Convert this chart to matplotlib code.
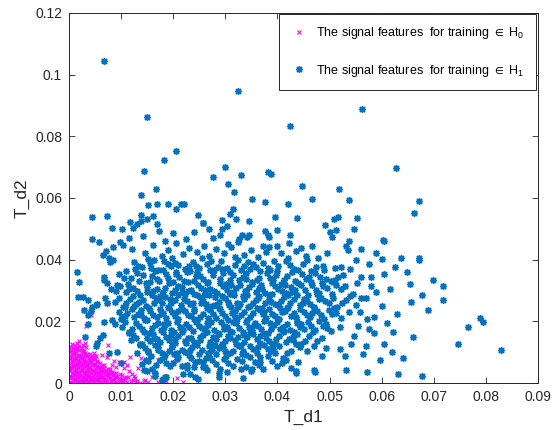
import numpy as np
import matplotlib
matplotlib.use('Agg')
import matplotlib.pyplot as plt

plt.rcParams['font.family'] = ['Liberation Sans', 'DejaVu Sans']
plt.rcParams['mathtext.default'] = 'regular'

# values, in units of 1e-3
h0_pts = [
    (0.2,0.3),(0.8,0.7),(1.5,0.4),(2.1,0.8),(2.9,0.3),(3.6,0.6),(4.3,0.9),(5.0,0.4),(5.8,0.7),(6.5,0.3),
    (7.2,0.8),(8.0,0.5),(8.9,0.2),(9.7,0.6),(10.6,0.4),(11.8,0.7),(12.9,0.3),(14.3,0.5),
    (0.4,1.5),(1.1,1.2),(1.9,1.8),(2.6,1.4),(3.3,1.7),(4.0,1.1),(4.8,1.6),(5.5,1.3),(6.3,1.9),(7.0,1.2),
    (7.8,1.6),(8.6,1.1),(9.5,1.7),(10.3,1.3),(11.4,1.8),
    (0.1,2.4),(0.9,2.8),(1.6,2.2),(2.4,2.6),(3.1,2.9),(3.9,2.3),(4.6,2.7),(5.4,2.1),(6.1,2.5),(6.9,2.9),
    (7.7,2.2),(8.4,2.6),(9.2,2.4),(10.1,2.7),
    (0.5,3.3),(1.3,3.7),(2.0,3.1),(2.8,3.5),(3.5,3.9),(4.3,3.2),(5.1,3.6),(5.8,3.4),(6.6,3.8),(7.4,3.2),
    (8.2,3.5),(9.0,3.3),
    (0.2,4.5),(1.0,4.2),(1.7,4.8),(2.5,4.4),(3.3,4.1),(4.1,4.7),(4.8,4.3),(5.6,4.9),(6.4,4.4),(7.1,4.2),(7.9,4.6),
    (0.6,5.4),(1.4,5.8),(2.2,5.2),(3.0,5.6),(3.7,5.3),(4.5,5.9),(5.3,5.5),(6.1,5.1),(6.8,5.7),
    (0.3,6.6),(1.1,6.2),(1.9,6.8),(2.7,6.4),(3.4,6.1),(4.2,6.7),(5.0,6.3),(5.9,6.5),
    (0.5,7.4),(1.3,7.8),(2.1,7.2),(2.9,7.6),(3.8,7.3),(4.6,7.7),(5.4,7.1),
    (0.2,8.6),(1.0,8.2),(1.8,8.7),(2.6,8.4),(3.5,8.8),(4.3,8.3),
    (0.6,9.4),(1.4,9.8),(2.3,9.2),(3.1,9.6),(4.0,9.3),
    (0.3,10.6),(1.2,10.2),(2.0,10.8),(2.9,10.4),
    (0.7,11.4),(1.6,11.8),(2.5,11.2),(3.3,11.6),
    (2.0,13.5),(3.1,13.0),(1.2,12.4),
    (0.5,0.1),(1.2,0.9),(1.8,0.1),(2.5,0.5),(3.2,0.9),(3.9,0.2),(4.6,0.5),(5.4,0.9),(6.1,0.2),(6.9,0.6),
    (7.6,0.1),(8.4,0.9),(9.3,0.4),(10.2,0.8),(11.2,0.2),(12.3,0.9),(13.6,0.1),
    (0.8,1.9),(1.5,1.0),(2.3,1.3),(3.0,1.1),(3.7,1.9),(4.4,1.4),(5.2,1.0),(5.9,1.5),(6.7,1.3),(7.4,1.9),
    (8.2,1.4),(9.0,1.9),(9.9,1.1),(10.8,1.5),
    (0.5,2.1),(1.2,2.5),(2.0,2.9),(2.7,2.1),(3.5,2.5),(4.2,2.1),(5.0,2.8),(5.7,2.4),(6.5,2.1),(7.3,2.6),
    (8.0,2.9),(8.8,2.1),(9.7,2.9),
    (0.1,3.8),(0.9,3.1),(1.7,3.5),(2.4,3.9),(3.2,3.3),(3.9,3.6),(4.7,3.9),(5.5,3.1),(6.2,3.7),(7.0,3.5),
    (7.8,3.9),(8.6,3.2),
    (0.6,4.9),(1.4,4.5),(2.1,4.1),(2.9,4.8),(3.7,4.5),(4.5,4.1),(5.2,4.6),(6.0,4.2),(6.8,4.8),(7.5,4.4),
    (0.2,5.1),(1.0,5.6),(1.8,5.9),(2.6,5.5),(3.4,5.9),(4.1,5.1),(4.9,5.7),(5.7,5.3),(6.4,5.8),
    (0.7,6.9),(1.5,6.5),(2.3,6.1),(3.1,6.8),(3.8,6.5),(4.6,6.1),(5.4,6.8),
    (0.1,7.9),(0.9,7.3),(1.7,7.6),(2.5,7.9),(3.3,7.1),(4.2,7.5),(5.0,7.9),
    (0.6,8.9),(1.4,8.5),(2.2,8.1),(3.0,8.6),(3.9,8.2),(4.7,8.8),
    (0.2,9.9),(1.0,9.5),(1.9,9.1),(2.7,9.9),(3.5,9.4),
    (0.7,10.1),(1.6,10.9),(2.4,10.5),(0.3,11.7),(1.1,11.1),(2.0,11.9),(0.5,12.6),(1.6,13.1),(2.6,12.2),
    # scattered H0 points
    (7.5,25.8),(4.2,22.1),(3.3,18.6),(7.5,12.3),(4.7,9.8),(11.7,8.5),(13.8,8.0),(17.0,7.5),(20.0,6.9),
    (15.3,8.3),(13.3,4.8),(14.6,1.0),(17.0,0.4),(20.7,1.5),(12.7,1.5),(9.6,6.7),(10.5,4.8),(8.6,7.0),
    (7.3,8.5),(12.0,3.0),(16.0,1.8),(18.7,0.6),(21.9,0.3),(11.1,6.0),
    (10.9,2.1),(11.6,3.8),(12.5,2.4),(13.0,0.8),(15.2,0.3),(10.6,6.9),(9.1,5.2),(8.3,5.9),(6.4,9.2),(5.2,8.9),
]

h1_pts = [
    # sparse upper part
    (6.7,104.4),(14.9,86.4),(32.4,94.7),(42.5,83.5),(56.3,88.8),(20.5,75.2),(18.3,72.2),(14.3,68.9),
    (29.9,70.1),(27.7,66.7),(30.5,64.5),(33.0,67.5),(38.1,68.3),(38.7,67.8),(16.6,62.8),(13.8,61.0),
    (31.6,61.8),(44.8,63.8),(51.8,62.8),(62.8,69.6),(35.1,59.6),(37.6,58.7),(42.0,58.0),(46.7,59.6),
    (53.7,59.2),(67.2,58.9),(15.1,57.7),(16.8,58.1),(18.9,58.0),(21.4,58.0),(22.1,58.0),(20.5,56.3),
    (31.5,56.4),(66.2,55.0),(30.9,54.9),(32.0,53.2),(29.3,52.9),(25.8,52.0),(34.5,52.5),(39.5,53.8),
    (43.7,53.4),(50.9,53.3),(51.6,53.9),(55.3,53.4),(4.5,53.7),(7.2,54.2),(13.8,54.5),(16.2,54.2),
    (24.8,54.5),(11.7,52.3),(13.8,52.6),(15.0,53.1),(16.8,51.5),(25.7,51.8),(26.8,50.0),(29.4,50.0),
    (30.4,50.9),(37.7,49.4),(40.0,49.6),(49.1,51.2),(51.3,49.6),(54.7,50.0),(8.2,50.4),(10.2,49.8),
    (12.2,50.2),(13.0,51.5),(60.5,46.0),
    # 0.04 - 0.05
    (4.5,46.8),(5.7,45.7),(8.5,44.2),(9.8,45.6),(10.4,44.8),(7.0,42.9),(6.5,41.6),(8.5,39.9),(7.9,39.3),
    (7.7,40.4),(27.7,46.9),(33.2,48.1),(34.5,47.9),(34.2,47.3),(32.7,46.8),(32.4,45.8),(38.1,48.1),
    (38.4,47.5),(42.4,48.1),(50.0,49.1),(50.5,47.3),(53.7,46.2),(42.3,45.5),(25.9,44.4),(30.6,45.1),
    (37.3,44.4),(38.4,44.2),(39.9,44.4),(44.6,43.9),(46.7,44.5),(49.6,42.3),(53.2,44.4),(53.6,43.0),
    (56.0,43.6),(60.0,40.1),(67.2,40.5),(67.2,39.9),
    (12.0,43.5),(14.6,42.0),(16.2,44.6),(17.9,41.3),(19.0,43.0),(20.6,45.4),(21.8,41.8),(23.1,43.9),
    (24.5,42.6),(26.8,41.2),(28.2,43.4),(29.7,42.1),(31.0,44.0),(33.5,41.5),(35.0,43.2),(36.3,41.0),
    (40.7,42.3),(42.0,40.6),(43.5,42.8),(45.5,41.2),(47.8,40.5),(19.8,40.6),(15.2,40.2),(25.6,40.4),
    (31.9,40.8),(37.8,42.6),(22.5,46.7),(18.4,46.0),(14.2,47.8),(11.6,47.0),(20.0,48.6),(17.2,49.3),
    (24.0,48.9),(28.9,48.0),
    # core
    (12.5,39.2),(14.0,37.5),(15.5,38.8),(17.0,36.6),(18.2,39.5),(19.6,37.9),(21.0,38.4),(22.3,36.9),
    (23.7,39.1),(25.0,37.2),(26.4,38.7),(27.8,36.5),(29.1,39.6),(30.3,37.4),(31.8,38.2),(33.0,36.8),
    (34.4,39.3),(35.9,37.6),(37.2,38.9),(38.6,36.7),(40.1,38.1),(41.7,39.7),(43.2,37.0),(44.9,38.5),
    (46.5,36.4),(48.8,38.0),(51.0,37.3),(52.2,37.7),(54.0,36.9),(49.4,33.6),(11.0,36.2),
    (9.5,35.4),(11.8,33.9),(13.1,35.8),(14.7,32.4),(15.9,34.6),(17.3,33.1),(18.6,35.2),(19.9,32.7),
    (21.2,34.3),(22.6,35.9),(23.9,33.0),(25.1,34.8),(26.5,32.5),(27.7,35.1),(28.9,33.6),(30.2,32.2),
    (31.4,34.9),(32.7,33.3),(34.0,35.6),(35.2,32.8),(36.5,34.1),(37.9,35.7),(39.2,33.4),(40.6,32.1),
    (41.9,34.7),(43.4,33.0),(44.8,35.3),(46.4,32.6),(48.1,34.4),(50.2,33.2),(52.6,35.0),(55.3,32.3),
    (58.0,34.5),(64.9,36.0),(60.5,35.5),(16.5,36.3),(24.5,36.0),(33.6,37.8),(42.8,35.9),(20.6,36.0),
    (8.0,30.6),(9.7,31.5),(10.9,29.4),(12.3,30.8),(13.6,28.6),(14.9,31.2),(16.1,29.7),(17.4,28.3),
    (18.5,30.9),(19.8,29.1),(21.0,31.6),(22.2,28.8),(23.4,30.2),(24.7,31.8),(25.9,28.5),(27.1,30.5),
    (28.4,29.2),(29.6,31.3),(30.9,28.9),(32.1,30.7),(33.3,28.2),(34.6,31.0),(35.8,29.5),(37.0,30.6),
    (38.3,28.7),(39.5,31.4),(40.8,29.8),(42.1,28.4),(43.3,30.3),(44.6,31.7),(45.9,28.6),(47.3,30.1),
    (48.8,31.5),(50.4,29.0),(52.1,30.4),(53.9,28.3),
    (8.8,26.2),(10.4,24.8),(11.7,27.3),(12.9,25.5),(14.2,26.9),(15.4,24.3),(16.6,27.6),(17.8,25.8),
    (19.0,24.6),(20.3,27.0),(21.5,25.2),(22.7,26.6),(23.9,24.1),(25.1,27.8),(26.3,25.7),(27.5,24.9),
    (28.7,26.4),(29.9,27.5),(31.1,24.5),(32.3,26.0),(33.5,27.2),(34.7,25.1),(35.9,26.8),(37.1,24.4),
    (38.3,27.4),(39.5,25.6),(40.7,26.7),(41.9,24.2),(43.1,27.1),(44.4,25.3),(45.7,26.5),(47.0,24.8),
    (48.4,27.7),(49.9,25.9),(51.5,24.6),(53.2,26.8),(55.0,25.4),(57.0,27.5),
    (9.9,20.9),(11.2,22.6),(12.5,21.3),(13.8,23.7),(15.0,20.4),(16.2,22.2),(17.4,23.9),(18.6,21.0),
    (19.8,22.9),(21.0,20.6),(22.2,23.3),(23.4,21.7),(24.6,20.2),(25.8,22.5),(27.0,23.8),(28.2,21.2),
    (29.4,22.8),(30.6,20.5),(31.8,23.4),(33.0,21.9),(34.2,20.3),(35.4,22.7),(36.6,23.6),(37.8,21.1),
    (39.0,22.4),(40.2,20.8),(41.4,23.5),(42.6,21.6),(43.8,20.1),(45.0,22.9),(46.3,21.4),(47.6,23.2),
    (49.0,20.7),(50.5,22.3),(52.1,21.0),(53.8,23.1),
    (10.1,18.3),(11.5,16.7),(12.8,19.4),(14.0,17.5),(15.3,16.2),(16.5,18.8),(17.7,17.1),(18.9,19.6),
    (20.1,16.5),(21.3,18.1),(22.5,19.2),(23.7,16.9),(24.9,18.6),(26.1,17.3),(27.3,19.8),(28.5,16.3),
    (29.7,18.4),(30.9,17.0),(32.1,19.3),(33.3,16.6),(34.5,18.0),(35.7,19.5),(36.9,17.4),(38.1,16.1),
    (39.3,18.9),(40.5,17.6),(41.8,19.1),(43.1,16.4),(44.4,18.2),(45.8,19.7),(47.2,17.2),(48.7,18.6),
    (50.3,16.8),(52.0,18.0),
    (11.9,13.9),(12.3,15.6),(13.7,12.8),(15.0,14.7),(16.2,15.9),(17.4,13.2),(18.6,14.9),(19.8,12.4),
    (21.0,15.3),(22.2,13.6),(23.4,14.6),(24.6,12.2),(25.8,15.7),(27.0,13.4),(28.2,14.3),(29.4,12.6),
    (30.6,15.1),(31.8,13.8),(33.0,12.3),(34.2,14.8),(35.4,15.8),(36.6,13.1),(37.8,14.5),(39.0,12.7),
    (40.3,15.4),(41.6,13.3),(43.0,14.9),(44.5,12.5),(46.0,15.2),(47.6,13.7),
    (13.0,9.8),(14.5,11.4),(15.8,8.6),(17.1,10.7),(18.4,9.2),(19.7,11.6),(21.0,8.3),(22.3,10.1),
    (23.6,11.8),(24.9,9.4),(26.2,8.1),(27.5,10.6),(28.8,11.3),(30.1,8.8),(31.4,10.3),(32.7,11.9),
    (34.0,9.0),(35.3,10.9),(36.7,8.4),(38.1,11.1),(39.5,9.6),(41.0,8.2),(42.6,10.5),(44.3,11.7),
    (14.0,6.2),(15.9,4.5),(17.5,7.4),(19.3,5.6),(20.8,7.9),(22.6,4.9),(24.1,6.8),(25.7,5.3),
    (27.4,7.6),(29.0,4.4),(30.6,6.4),(32.2,7.8),(33.9,5.1),(35.6,6.9),(37.3,4.6),(39.0,7.2),
    (40.8,6.4),(42.6,4.8),
    # core, second pass
    (13.3,38.1),(16.4,39.9),(20.3,39.0),(24.4,38.0),(28.5,37.7),(32.5,39.9),(36.6,36.2),(39.4,39.6),
    (45.6,39.8),(47.4,37.5),
    (10.5,34.2),(12.6,36.9),(14.2,34.9),(16.8,33.6),(18.0,36.8),(20.5,35.3),(22.0,33.2),(23.2,36.4),
    (25.7,33.7),(27.1,36.6),(29.6,35.8),(30.8,33.5),(33.4,34.5),(34.8,36.9),(36.0,33.4),(38.6,34.2),
    (40.0,36.3),(41.3,33.3),(43.9,36.6),(45.4,33.8),(47.2,35.6),(49.0,36.5),(51.6,34.3),
    (9.0,29.9),(11.4,32.2),(13.0,29.9),(15.6,32.9),(16.8,30.6),(18.0,29.4),(19.2,32.3),(20.4,30.1),
    (21.6,29.6),(22.8,32.6),(24.0,29.0),(25.4,30.9),(26.6,32.9),(27.8,29.8),(29.0,32.4),(30.3,30.0),
    (31.5,29.4),(32.8,31.9),(34.0,29.7),(35.2,32.2),(36.4,30.8),(37.6,29.2),(38.9,32.5),(40.1,30.6),
    (41.5,31.8),(42.7,29.5),(44.0,32.3),(45.2,30.3),(46.6,31.9),(48.0,29.3),(49.6,30.7),(51.2,31.7),
    (9.6,27.5),(11.0,25.9),(12.2,28.2),(13.5,26.4),(14.8,25.1),(16.0,28.5),(17.2,26.9),(18.4,28.0),
    (19.6,25.9),(20.9,28.4),(22.1,27.3),(23.3,25.5),(24.5,28.6),(25.7,26.7),(26.9,28.7),(28.1,25.4),
    (29.3,28.2),(30.5,26.2),(31.7,28.6),(32.9,25.6),(34.1,28.4),(35.3,26.0),(36.5,28.1),(37.7,25.9),
    (38.9,28.9),(40.1,25.2),(41.3,27.8),(42.5,25.8),(43.7,28.6),(45.0,27.2),(46.3,25.6),(47.6,28.9),
    (49.1,26.7),(50.7,27.6),(52.4,25.8),
    (10.8,21.8),(12.0,23.9),(13.2,22.3),(14.4,21.1),(15.6,23.3),(16.8,21.3),(18.0,22.6),(19.2,24.3),
    (20.4,21.8),(21.6,24.0),(22.8,22.0),(24.0,23.2),(25.2,21.3),(26.4,24.4),(27.6,22.3),(28.8,24.2),
    (30.0,21.6),(31.2,22.6),(32.4,24.5),(33.6,23.0),(34.8,21.5),(36.0,24.2),(37.2,22.3),(38.4,24.0),
    (39.6,21.6),(40.8,23.1),(42.0,24.6),(43.2,22.6),(44.4,23.9),(45.7,21.9),(47.0,24.4),(48.3,22.0),
    (49.8,23.7),(51.3,22.8),
    (10.8,19.9),(12.1,17.6),(13.4,18.6),(14.6,20.3),(15.9,17.9),(17.1,19.6),(18.3,18.0),(19.5,17.2),
    (20.7,19.8),(21.9,17.3),(23.1,18.1),(24.3,19.9),(25.5,17.9),(26.7,18.7),(27.9,17.1),(29.1,19.9),
    (30.3,18.3),(31.5,19.7),(32.7,17.8),(33.9,19.9),(35.1,17.2),(36.3,18.5),(37.5,20.2),(38.7,17.5),
    (39.9,19.8),(41.1,18.2),(42.4,17.3),(43.7,19.4),(45.1,17.6),(46.5,18.6),(47.9,20.1),(49.5,17.9),
    (12.9,14.7),(14.3,16.4),(15.6,13.5),(16.8,14.2),(18.0,16.4),(19.2,13.8),(20.4,14.3),(21.6,16.6),
    (22.8,14.7),(24.0,13.3),(25.2,15.0),(26.4,16.5),(27.6,14.8),(28.8,15.8),(30.0,13.5),(31.2,16.4),
    (32.4,14.9),(33.6,13.4),(34.8,16.6),(36.0,14.4),(37.2,16.2),(38.4,13.6),(39.7,14.4),(41.0,16.5),
    (42.3,14.3),(43.7,15.9),(45.2,13.7),(46.8,16.4),(48.5,14.5),
    (14.0,12.8),(15.2,10.3),(16.5,12.2),(17.8,9.7),(19.1,10.5),(20.4,12.9),(21.7,10.8),(23.0,9.2),
    (24.3,12.7),(25.6,10.7),(26.9,12.1),(28.2,9.5),(29.5,11.8),(30.8,9.7),(32.1,12.6),(33.4,10.4),
    (34.7,12.1),(36.0,9.8),(37.4,12.3),(38.8,10.4),(40.3,11.9),(41.8,9.6),(43.5,12.6),(45.6,10.3),
    (47.0,12.0),
    (15.1,7.0),(16.7,5.7),(18.3,8.3),(20.0,6.6),(21.7,5.4),(23.4,8.1),(25.0,7.0),(26.8,8.6),(28.3,6.1),
    (29.8,7.7),(31.4,5.6),(33.1,7.0),(34.8,8.3),(36.5,5.7),(38.2,8.6),(39.9,5.5),(41.7,7.6),(44.0,6.8),
    # core, third pass (irregular fill)
    (18.9,33.9),(21.7,31.1),(24.3,34.6),(26.0,30.1),(29.3,36.9),(31.0,31.9),(33.9,33.8),(36.9,31.7),
    (39.8,35.0),(42.6,31.1),(19.4,27.4),(22.9,29.7),(25.3,26.1),(28.0,27.8),(30.7,25.3),(33.8,29.9),
    (36.2,27.5),(38.8,26.3),(41.6,29.3),(44.9,26.0),(17.7,22.3),(20.9,23.4),(23.7,25.8),(26.7,21.0),
    (29.0,23.9),(31.9,21.4),(34.3,24.8),(37.4,23.0),(40.4,24.3),(43.6,21.3),(18.2,19.0),(21.5,17.7),
    (24.0,20.8),(26.5,19.4),(29.8,17.4),(32.3,20.7),(35.5,18.9),(38.5,19.3),(41.3,16.8),(44.6,19.0),
    (16.3,14.6),(19.5,15.6),(22.4,12.9),(25.1,14.1),(28.0,12.3),(30.9,14.6),(33.5,15.6),(36.7,15.1),
    (39.6,13.1),(42.9,13.9),(17.0,11.6),(20.1,9.5),(23.3,10.7),(26.6,9.8),(29.9,10.5),(33.1,9.3),
    (36.3,11.6),(39.2,10.9),(15.8,37.4),(19.0,38.7),(23.0,37.8),(27.2,39.5),(30.8,36.1),(35.3,38.6),
    (38.1,37.3),(42.4,38.3),(46.1,34.5),(48.6,32.4),(47.9,27.2),(50.9,24.2),(49.3,19.2),(46.7,22.7),
    (13.9,21.9),(12.4,25.1),(15.0,29.4),(11.5,30.4),(13.5,33.0),(16.4,26.0),
    # right tail and bottom row
    (56.0,34.3),(50.6,32.8),(51.1,33.3),(56.0,27.5),(57.1,20.7),(57.6,17.6),(54.6,15.2),(54.1,12.6),
    (52.0,11.1),(53.0,8.8),(49.4,11.4),(47.1,4.2),(48.5,8.8),(43.6,3.9),(36.7,6.9),(35.1,4.5),
    (33.3,1.5),(33.0,4.5),(30.3,3.7),(28.7,1.8),(26.1,5.1),(63.1,2.9),(67.7,2.2),(43.5,3.4),(47.2,3.7),
    (28.8,3.3),(24.7,1.2),(24.2,2.0),(23.2,2.9),(21.8,2.9),(18.6,2.0),(18.1,1.2),(16.5,2.3),(14.9,4.0),
    (34.9,4.0),(82.9,10.7),(78.9,21.1),(79.5,19.8),(76.6,18.2),(74.7,12.6),(71.8,31.5),(71.8,26.9),
    (68.9,23.7),(67.7,28.5),(65.6,26.3),(60.3,46.4),(62.2,16.5),(62.0,10.1),(59.7,7.5),(58.5,16.2),
    (57.2,3.6),(53.2,4.2),(61.5,30.5),(63.0,22.5),(60.0,25.0),(59.0,29.5),(58.5,21.5),(61.0,19.5),
    (65.5,32.0),(69.8,33.5),(63.8,40.5),(62.5,37.5),(66.0,15.0),(60.5,12.8),(56.5,9.5),(64.0,8.0),
    (58.0,31.5),(57.5,38.5),(55.0,40.0),(59.0,42.0),(57.0,12.0),(55.5,18.5),(55.8,23.0),(54.5,29.0),
    (53.0,31.5),
    # left edge
    (1.5,36.1),(2.0,32.7),(1.8,28.0),(2.6,28.0),(3.6,26.9),(4.2,23.4),(3.6,22.2),(2.9,23.7),(3.7,19.1),
    (5.2,25.3),(3.1,14.8),(5.2,12.1),(6.8,34.5),(6.8,33.4),(7.2,32.3),(9.2,31.8),(6.9,27.5),(5.4,25.6),
    (4.4,24.7),(7.2,25.9),(6.8,19.9),(8.2,20.4),(8.8,19.1),(9.5,23.1),(10.7,24.7),(10.1,21.5),(6.5,15.6),
    (5.9,14.5),(5.3,12.9),(7.7,9.6),(9.3,10.2),(10.0,6.4),(11.5,16.1),(13.6,12.3),(15.2,10.2),(14.8,7.5),
    (18.7,6.4),(20.7,9.6),(14.3,4.2),(16.5,3.1),(18.4,2.0),(17.8,1.0),(22.6,5.8),(23.9,5.3),(25.8,6.9),
    (26.4,4.2),
]

xticks = [0, 0.01, 0.02, 0.03, 0.04, 0.05, 0.06, 0.07, 0.08, 0.09]
xtick_labels = ['0', '0.01', '0.02', '0.03', '0.04', '0.05', '0.06', '0.07', '0.08', '0.09']
yticks = [0, 0.02, 0.04, 0.06, 0.08, 0.1, 0.12]
ytick_labels = ['0', '0.02', '0.04', '0.06', '0.08', '0.1', '0.12']

h0 = np.array(h0_pts) / 1000.0
h1 = np.array(h1_pts) / 1000.0

fig = plt.figure(figsize=(5.58, 4.30), dpi=100)
ax = fig.add_axes([0.1237, 0.1093, 0.8405, 0.8605])

ax.plot(h0[:, 0], h0[:, 1], linestyle='none', marker='x', color=(1, 0, 1),
        markersize=3.5, markeredgewidth=0.8,
        label=r'The signal features  for training $\in$ H$_0$')
ax.plot(h1[:, 0], h1[:, 1], linestyle='none', marker=(8, 2, 0), color='#0072BD',
        markersize=5, markeredgewidth=1.0,
        label=r'The signal features  for training $\in$ H$_1$')

ax.set_xlim(0, 0.09)
ax.set_ylim(0, 0.12)
ax.set_xticks(xticks)
ax.set_xticklabels(xtick_labels)
ax.set_yticks(yticks)
ax.set_yticklabels(ytick_labels)
ax.tick_params(direction='in', length=4, width=0.6, top=True, right=True,
               labelsize=10, colors='#262626', pad=5)
for s in ax.spines.values():
    s.set_color('#262626')
    s.set_linewidth(0.7)

ax.set_xlabel('T_d1', fontsize=12.5, color='#262626', labelpad=4)
ax.set_ylabel('T_d2', fontsize=12.5, color='#262626', labelpad=4)

leg = ax.legend(loc='upper right', bbox_to_anchor=(0.995, 0.998), fontsize=9,
                frameon=True, fancybox=False, framealpha=1, edgecolor='#262626',
                labelspacing=1.75, borderpad=0.9, handletextpad=0.6, handlelength=1.5,
                borderaxespad=0)
leg.get_frame().set_linewidth(0.7)

fig.savefig('out.png', dpi=100)
